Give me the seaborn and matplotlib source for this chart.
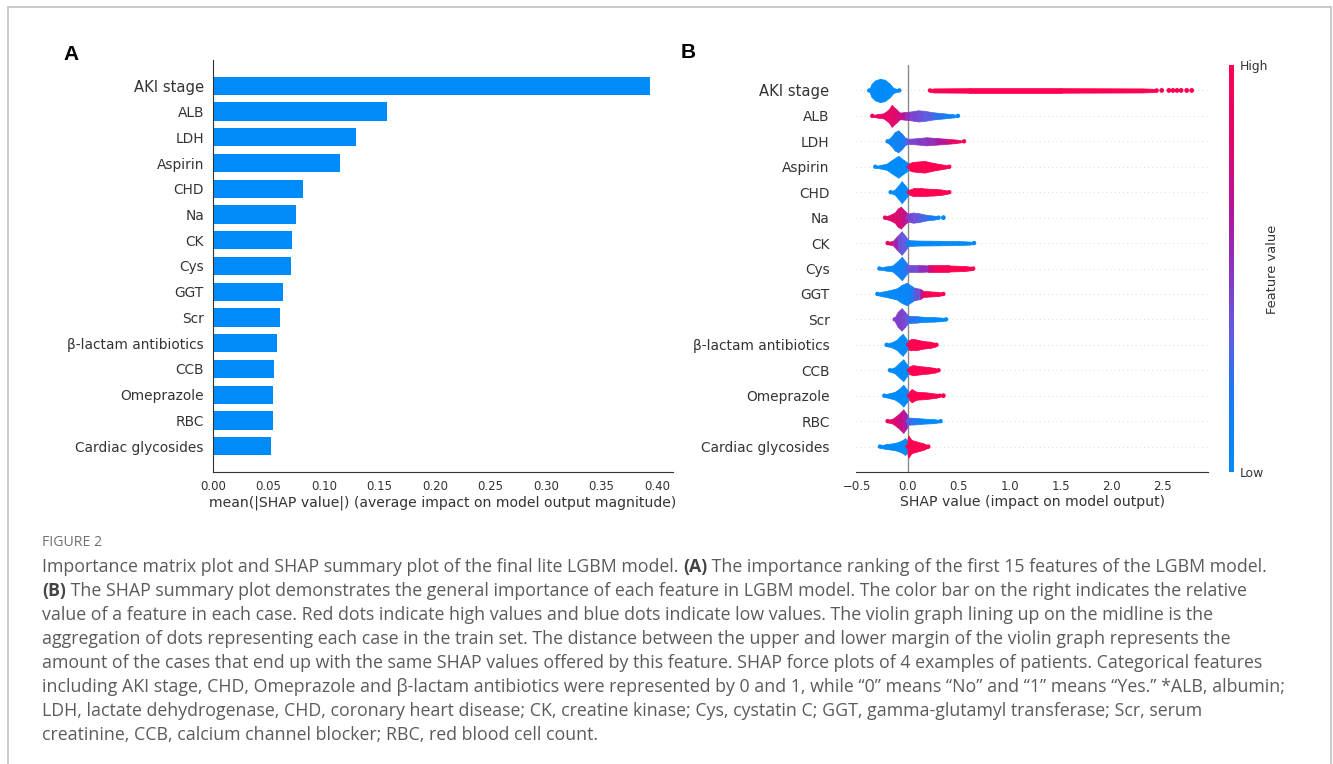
import numpy as np
import pandas as pd
import matplotlib
matplotlib.use("Agg")
import matplotlib.pyplot as plt
import seaborn as sns
from matplotlib.colors import LinearSegmentedColormap
from matplotlib.lines import Line2D
from matplotlib.cm import ScalarMappable
from matplotlib.colors import Normalize

# ---------------------------------------------------------------- data
features = ["AKI stage", "ALB", "LDH", "Aspirin", "CHD", "Na", "CK", "Cys", "GGT",
            "Scr", "β-lactam antibiotics", "CCB", "Omeprazole", "RBC",
            "Cardiac glycosides"]

mean_abs_shap = [0.394, 0.157, 0.129, 0.114, 0.081, 0.075, 0.071, 0.0705, 0.063,
                 0.060, 0.058, 0.055, 0.054, 0.054, 0.052]

# Beeswarm outlines: each cluster is a list of (SHAP value, half-width in rows,
# normalised feature value)
aki_stage_swarm = [
    [(-0.38, 0.04, 0.0), (-0.357, 0.26, 0.0), (-0.324, 0.39, 0.0), (-0.275, 0.46, 0.0),
     (-0.226, 0.42, 0.0), (-0.177, 0.26, 0.0), (-0.144, 0.10, 0.0), (-0.11, 0.06, 0.0),
     (-0.085, 0.03, 0.0)],
    [(0.216, 0.06, 1.0), (0.26, 0.08, 1.0), (0.6, 0.09, 1.0), (1.5, 0.09, 1.0),
     (2.3, 0.08, 1.0), (2.44, 0.06, 1.0)],
]
alb_swarm = [
    [(-0.35, 0.03, 0.9), (-0.30, 0.07, 0.9), (-0.24, 0.10, 0.85), (-0.19, 0.25, 0.85),
     (-0.16, 0.43, 0.85), (-0.12, 0.28, 0.8), (-0.08, 0.13, 0.75), (-0.03, 0.15, 0.6),
     (0.02, 0.17, 0.45), (0.10, 0.22, 0.4), (0.16, 0.20, 0.35), (0.25, 0.14, 0.3),
     (0.35, 0.10, 0.15), (0.45, 0.06, 0.05), (0.49, 0.02, 0.0)],
]
ldh_swarm = [
    [(-0.20, 0.05, 0.05), (-0.16, 0.20, 0.05), (-0.13, 0.36, 0.1), (-0.095, 0.43, 0.1),
     (-0.06, 0.30, 0.15), (-0.03, 0.15, 0.2), (0.0, 0.10, 0.4), (0.08, 0.12, 0.45),
     (0.18, 0.16, 0.5), (0.28, 0.13, 0.55), (0.38, 0.10, 0.75), (0.47, 0.07, 0.9),
     (0.55, 0.02, 1.0)],
]
aspirin_swarm = [
    [(-0.32, 0.03, 0.0), (-0.27, 0.07, 0.0), (-0.21, 0.12, 0.0), (-0.16, 0.26, 0.0),
     (-0.095, 0.43, 0.0), (-0.04, 0.26, 0.0), (0.01, 0.12, 0.0)],
    [(0.01, 0.14, 1.0), (0.04, 0.18, 1.0), (0.08, 0.20, 1.0), (0.16, 0.23, 1.0),
     (0.25, 0.15, 1.0), (0.32, 0.10, 1.0), (0.37, 0.07, 1.0), (0.405, 0.03, 1.0)],
]
chd_swarm = [
    [(-0.17, 0.03, 0.0), (-0.13, 0.10, 0.0), (-0.095, 0.26, 0.0), (-0.062, 0.43, 0.0),
     (-0.03, 0.28, 0.0), (0.005, 0.10, 0.0)],
    [(0.01, 0.10, 1.0), (0.05, 0.15, 1.0), (0.15, 0.15, 1.0), (0.25, 0.13, 1.0),
     (0.32, 0.11, 1.0), (0.38, 0.07, 1.0), (0.405, 0.03, 1.0)],
]
na_swarm = [
    [(-0.225, 0.05, 0.85), (-0.18, 0.10, 0.85), (-0.13, 0.20, 0.8), (-0.10, 0.36, 0.8),
     (-0.07, 0.43, 0.75), (-0.03, 0.26, 0.7), (0.0, 0.15, 0.55)],
    [(0.0, 0.16, 0.45), (0.05, 0.20, 0.4), (0.10, 0.18, 0.35), (0.18, 0.11, 0.25),
     (0.25, 0.08, 0.15), (0.30, 0.05, 0.05)],
]
ck_swarm = [
    [(-0.20, 0.05, 0.9), (-0.15, 0.08, 0.75), (-0.10, 0.30, 0.4), (-0.062, 0.46, 0.35),
     (-0.03, 0.30, 0.35), (0.0, 0.14, 0.3)],
    [(0.0, 0.12, 0.1), (0.08, 0.10, 0.05), (0.30, 0.09, 0.0), (0.50, 0.08, 0.0),
     (0.60, 0.06, 0.0), (0.648, 0.04, 0.0)],
]
cys_swarm = [
    [(-0.28, 0.04, 0.0), (-0.22, 0.08, 0.0), (-0.15, 0.12, 0.05), (-0.10, 0.30, 0.1),
     (-0.06, 0.46, 0.1), (-0.03, 0.30, 0.15), (0.0, 0.15, 0.3)],
    [(0.0, 0.14, 0.35), (0.10, 0.14, 0.45), (0.20, 0.12, 0.6), (0.25, 0.12, 0.9),
     (0.40, 0.12, 1.0), (0.55, 0.10, 1.0), (0.64, 0.06, 1.0)],
]
ggt_swarm = [
    [(-0.30, 0.05, 0.0), (-0.24, 0.10, 0.0), (-0.18, 0.15, 0.0), (-0.11, 0.22, 0.05),
     (-0.06, 0.36, 0.05), (-0.013, 0.44, 0.05), (0.04, 0.30, 0.15), (0.07, 0.22, 0.2)],
    [(0.06, 0.25, 0.3), (0.12, 0.20, 0.45), (0.15, 0.12, 0.9), (0.22, 0.10, 1.0),
     (0.30, 0.08, 1.0), (0.347, 0.04, 1.0)],
]
scr_swarm = [
    [(-0.13, 0.08, 0.45), (-0.10, 0.30, 0.45), (-0.062, 0.44, 0.45), (-0.03, 0.30, 0.4),
     (0.0, 0.15, 0.35)],
    [(0.0, 0.14, 0.3), (0.08, 0.13, 0.15), (0.15, 0.10, 0.05), (0.25, 0.09, 0.0),
     (0.33, 0.07, 0.0), (0.373, 0.04, 0.0)],
]
beta_lactam_swarm = [
    [(-0.21, 0.05, 0.0), (-0.16, 0.10, 0.0), (-0.11, 0.20, 0.0), (-0.08, 0.33, 0.0),
     (-0.052, 0.43, 0.0), (-0.02, 0.26, 0.0), (0.003, 0.12, 0.0)],
    [(0.003, 0.18, 1.0), (0.03, 0.22, 1.0), (0.07, 0.22, 1.0), (0.15, 0.15, 1.0),
     (0.22, 0.12, 1.0), (0.26, 0.08, 1.0), (0.28, 0.03, 1.0)],
]
ccb_swarm = [
    [(-0.177, 0.05, 0.0), (-0.13, 0.12, 0.0), (-0.085, 0.29, 0.0), (-0.046, 0.43, 0.0),
     (-0.013, 0.24, 0.0), (0.003, 0.12, 0.0)],
    [(0.01, 0.15, 1.0), (0.05, 0.20, 1.0), (0.12, 0.16, 1.0), (0.20, 0.13, 1.0),
     (0.265, 0.09, 1.0), (0.30, 0.03, 1.0)],
]
omeprazole_swarm = [
    [(-0.232, 0.05, 0.0), (-0.18, 0.10, 0.0), (-0.13, 0.15, 0.0), (-0.08, 0.29, 0.0),
     (-0.046, 0.43, 0.0), (-0.013, 0.26, 0.0), (0.003, 0.12, 0.0)],
    [(0.01, 0.16, 1.0), (0.036, 0.26, 1.0), (0.08, 0.16, 1.0), (0.18, 0.13, 1.0),
     (0.28, 0.08, 1.0), (0.31, 0.04, 1.0)],
]
rbc_swarm = [
    [(-0.20, 0.05, 0.9), (-0.15, 0.10, 0.85), (-0.10, 0.25, 0.75), (-0.046, 0.46, 0.7),
     (-0.013, 0.28, 0.55), (0.0, 0.15, 0.4)],
    [(0.0, 0.14, 0.3), (0.06, 0.13, 0.2), (0.15, 0.10, 0.05), (0.25, 0.08, 0.0),
     (0.32, 0.04, 0.0)],
]
cardiac_glycosides_swarm = [
    [(-0.275, 0.05, 0.0), (-0.21, 0.10, 0.0), (-0.145, 0.13, 0.0), (-0.095, 0.18, 0.0),
     (-0.052, 0.26, 0.0), (-0.03, 0.33, 0.0), (-0.007, 0.24, 0.0)],
    [(-0.005, 0.30, 1.0), (0.005, 0.43, 1.0), (0.035, 0.26, 1.0), (0.085, 0.20, 1.0),
     (0.15, 0.13, 1.0), (0.20, 0.04, 1.0)],
]

# isolated points beyond the dense part of each swarm
tail_feature = ["AKI stage"] * 7 + ["Na", "Omeprazole"]
tail_shap = [2.49, 2.56, 2.60, 2.64, 2.68, 2.735, 2.784, 0.347, 0.347]
tail_value = [1.0] * 7 + [0.05, 1.0]

swarm_shapes = [aki_stage_swarm, alb_swarm, ldh_swarm, aspirin_swarm, chd_swarm,
                na_swarm, ck_swarm, cys_swarm, ggt_swarm, scr_swarm,
                beta_lactam_swarm, ccb_swarm, omeprazole_swarm, rbc_swarm,
                cardiac_glycosides_swarm]

bar_ticks = [0.00, 0.05, 0.10, 0.15, 0.20, 0.25, 0.30, 0.35, 0.40]
swarm_ticks = [-0.5, 0.0, 0.5, 1.0, 1.5, 2.0, 2.5]

caption_lines = [
    [("Importance matrix plot and SHAP summary plot of the final lite LGBM model. ", False),
     ("(A)", True),
     (" The importance ranking of the first 15 features of the LGBM model.", False)],
    [("(B)", True),
     (" The SHAP summary plot demonstrates the general importance of each feature in LGBM model. "
      "The color bar on the right indicates the relative", False)],
    [("value of a feature in each case. Red dots indicate high values and blue dots indicate low "
      "values. The violin graph lining up on the midline is the", False)],
    [("aggregation of dots representing each case in the train set. The distance between the upper "
      "and lower margin of the violin graph represents the", False)],
    [("amount of the cases that end up with the same SHAP values offered by this feature. SHAP force "
      "plots of 4 examples of patients. Categorical features", False)],
    [("including AKI stage, CHD, Omeprazole and β-lactam antibiotics were represented by 0 and 1, "
      "while “0” means “No” and “1” means “Yes.” *ALB, albumin;", False)],
    [("LDH, lactate dehydrogenase, CHD, coronary heart disease; CK, creatine kinase; Cys, cystatin C; "
      "GGT, gamma-glutamyl transferase; Scr, serum", False)],
    [("creatinine, CCB, calcium channel blocker; RBC, red blood cell count.", False)],
]

# ---------------------------------------------------------------- style
sns.set_style("white")
plt.rcParams["font.family"] = ["DejaVu Sans"]
AXIS_COLOR = "#333333"
BAR_BLUE = "#008bfb"
LABEL_SIZE = 9.9
TOP_LABEL_SIZE = 10.6
TICK_SIZE = 8.5
XLABEL_SIZE = 10.1

red_blue = LinearSegmentedColormap.from_list(
    "red_blue",
    [(0.0, "#008bfb"), (0.2, "#1e78f0"), (0.35, "#645ade"), (0.5, "#8c32c0"),
     (0.65, "#b4149a"), (0.8, "#dc086e"), (1.0, "#ff0051")])

W, H = 1333, 764
fig = plt.figure(figsize=(W / 100, H / 100), dpi=100)
fig.patch.set_facecolor("white")


def fx(px):
    return px / W


def fy(py):
    return 1 - py / H


# ---------------------------------------------------------------- panel A
axA = fig.add_axes([fx(213), fy(472), fx(672.7 - 213), (472 - 60) / H])
dfA = pd.DataFrame({"feature": features, "value": mean_abs_shap})
sns.barplot(data=dfA, y="feature", x="value", order=features, orient="h",
            color=BAR_BLUE, saturation=1, width=0.7, ax=axA, edgecolor="none")
axA.set_ylim(15, -1)
axA.set_xlim(0, 0.414)
axA.set_xticks(bar_ticks)
axA.set_xticklabels([f"{t:.2f}" for t in bar_ticks])
axA.set_ylabel("")
axA.set_xlabel("mean(|SHAP value|) (average impact on model output magnitude)",
               fontsize=XLABEL_SIZE, color=AXIS_COLOR, labelpad=2)
for side in ["top", "right"]:
    axA.spines[side].set_visible(False)
for side in ["left", "bottom"]:
    axA.spines[side].set_color(AXIS_COLOR)
    axA.spines[side].set_linewidth(0.8)
axA.tick_params(axis="y", length=0, pad=6.5, labelsize=LABEL_SIZE, labelcolor=AXIS_COLOR)
axA.tick_params(axis="x", length=3.5, width=0.8, color=AXIS_COLOR, labelsize=TICK_SIZE,
                labelcolor=AXIS_COLOR, pad=2)
axA.get_yticklabels()[0].set_fontsize(TOP_LABEL_SIZE)

# ---------------------------------------------------------------- panel B
axB = fig.add_axes([fx(856), fy(472), fx(1208 - 856), (472 - 65) / H])
axB.set_ylim(15, -1)
axB.set_xlim(-0.51, 2.944)
for row in range(len(features)):
    axB.axhline(row, color="#cccccc", lw=0.6, dashes=(1, 4), zorder=0)
axB.axvline(0, color="#8a8a8a", lw=1.0, zorder=1)


def draw_cluster(ax, row, knots):
    for (x0, w0, c0), (x1, w1, c1) in zip(knots[:-1], knots[1:]):
        col = red_blue((c0 + c1) / 2)
        ax.fill_between([x0, x1], [row - w0, row - w1], [row + w0, row + w1],
                        color=col, edgecolor=col, lw=0.5, zorder=3)
    ax.scatter([knots[0][0], knots[-1][0]], [row, row],
               c=[red_blue(knots[0][2]), red_blue(knots[-1][2])], s=10, lw=0, zorder=3)


for row, clusters in enumerate(swarm_shapes):
    for knots in clusters:
        draw_cluster(axB, row, knots)

tails = pd.DataFrame({"row": [features.index(f) for f in tail_feature],
                      "shap": tail_shap, "value": tail_value})
sns.scatterplot(data=tails, x="shap", y="row", hue="value", palette=red_blue,
                hue_norm=(0, 1), s=12, linewidth=0, legend=False, ax=axB, zorder=4)

axB.set_yticks(range(len(features)))
axB.set_yticklabels(features)
axB.set_xticks(swarm_ticks)
axB.set_xticklabels([f"{t:.1f}".replace("-", "\u2212") for t in swarm_ticks])
axB.set_xlabel("SHAP value (impact on model output)", fontsize=XLABEL_SIZE,
               color=AXIS_COLOR, labelpad=2)
axB.set_ylabel("")
for side in ["top", "right", "left"]:
    axB.spines[side].set_visible(False)
axB.spines["bottom"].set_color(AXIS_COLOR)
axB.spines["bottom"].set_linewidth(0.8)
axB.tick_params(axis="y", length=0, pad=19, labelsize=LABEL_SIZE, labelcolor=AXIS_COLOR)
axB.tick_params(axis="x", length=3.5, width=0.8, color=AXIS_COLOR, labelsize=TICK_SIZE,
                labelcolor=AXIS_COLOR, pad=2)
axB.get_yticklabels()[0].set_fontsize(TOP_LABEL_SIZE)

# colour bar
cax = fig.add_axes([fx(1229), fy(472), fx(5), (472 - 65) / H])
sm = ScalarMappable(norm=Normalize(0, 1), cmap=red_blue)
cb = fig.colorbar(sm, cax=cax, ticks=[0, 1])
cb.outline.set_visible(False)
cb.ax.set_yticklabels(["Low", "High"])
cb.ax.tick_params(length=0, labelsize=8.9, pad=4, labelcolor=AXIS_COLOR)
fig.text(fx(1272), fy(269), "Feature value", rotation=90, ha="center", va="center",
         fontsize=9.4, color=AXIS_COLOR)

# panel letters
fig.text(fx(71), fy(55), "A", fontsize=15, fontweight="bold",
         family=["Liberation Sans", "DejaVu Sans"], ha="center", va="center", color="black")
fig.text(fx(688), fy(53), "B", fontsize=15, fontweight="bold",
         family=["Liberation Sans", "DejaVu Sans"], ha="center", va="center", color="black")

# ---------------------------------------------------------------- caption
cap = fig.add_axes([0, 0, 1, 1], zorder=-5)
cap.set_xlim(0, W)
cap.set_ylim(H, 0)
cap.axis("off")

frame_kw = dict(color="#c6c6c6", lw=1.3)
cap.add_line(Line2D([8, 8], [H + 5, 7], **frame_kw))
cap.add_line(Line2D([8, 1331], [7, 7], **frame_kw))
cap.add_line(Line2D([1331, 1331], [7, H + 5], **frame_kw))

CAP_FONT = ["Open Sans", "DejaVu Sans"]
cap.text(42, 543, "FIGURE 2", fontsize=10.2, color="#707070", family=CAP_FONT,
         va="center", ha="left")

line_y = [567, 591, 615, 639, 663, 687, 711, 735]
for y, pieces in zip(line_y, caption_lines):
    prev = None
    for text, bold in pieces:
        kw = dict(fontsize=12.75, family=CAP_FONT, color="#444444" if bold else "#5b5b5b",
                  fontweight="bold" if bold else "normal")
        if prev is None:
            prev = cap.text(42, y, text, va="center", ha="left", **kw)
        else:
            prev = cap.annotate(text, xy=(1, 0), xycoords=prev, va="bottom", ha="left", **kw)

fig.savefig("out.png", dpi=100, facecolor="white")
